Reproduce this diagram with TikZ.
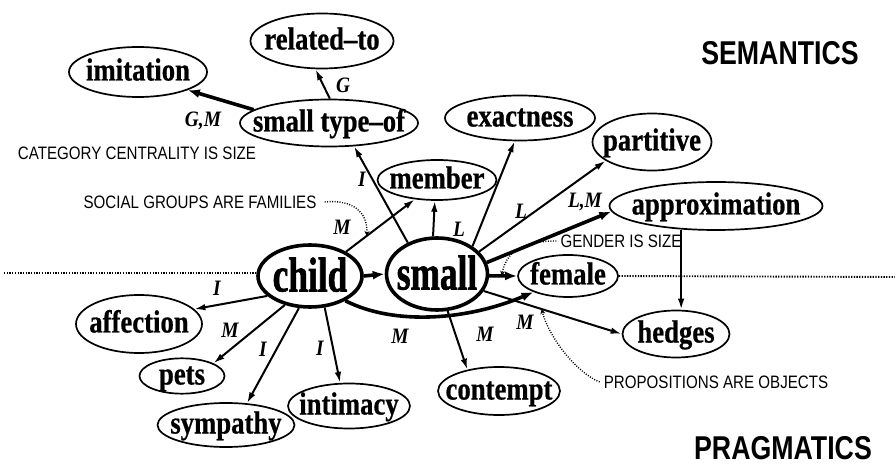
\documentclass[tikz,border=0pt]{standalone}
\usepackage{fontspec}
\setmainfont{Liberation Serif}
\newfontfamily\conceptfont[FakeStretch=0.835,FakeBold=0.6]{Liberation Serif}
\newfontfamily\hubfont[FakeStretch=0.72,FakeBold=1.2]{Liberation Serif}
\newfontfamily\tagfont[FakeStretch=0.88]{Liberation Serif}
\newfontfamily\notefont[FakeStretch=0.84]{Liberation Sans}
\newfontfamily\fieldfont[FakeStretch=0.81]{Liberation Sans}
\usetikzlibrary{shapes.geometric,arrows.meta}

\newcommand{\nw}[1]{\makebox[0pt]{#1}}

\tikzset{
  concept/.style={ellipse, draw, line width=1.7pt, inner sep=0pt,
    font=\conceptfont\bfseries\fontsize{32pt}{32pt}\selectfont,
    text height=21pt, text depth=4pt},
  hub/.style={concept, line width=3.6pt,
    font=\hubfont\bfseries\fontsize{49pt}{49pt}\selectfont,
    text height=33pt, text depth=2pt},
  link/.style={line width=2pt, -{Latex[length=11pt,width=6.5pt]}},
  heavy/.style={line width=3.6pt, -{Latex[length=12pt,width=9pt]}},
  tag/.style={inner sep=0pt, font=\tagfont\bfseries\itshape\fontsize{22pt}{22pt}\selectfont},
  note/.style={inner sep=0pt, font=\notefont\fontsize{18pt}{18pt}\selectfont},
  fieldname/.style={inner sep=0pt, font=\fieldfont\bfseries\fontsize{33pt}{33pt}\selectfont},
  notelink/.style={line width=1.4pt, dash pattern=on 1pt off 1.5pt, -{Stealth[length=5pt,width=5pt]}},
  divider/.style={line width=1.9pt, dash pattern=on 1.3pt off 1.4pt},
}

\begin{document}
\begin{tikzpicture}[x=1pt, y=-1pt]
    \useasboundingbox (0,0) rectangle (895,465);
    % concepts
    \node[concept, minimum width=143pt, minimum height=55pt] (related) at (322,41) {\nw{related–to}};
    \node[concept, minimum width=138pt, minimum height=50pt] (imitation) at (138,72) {\nw{imitation}};
    \node[concept, minimum width=178pt, minimum height=47pt] (stype) at (329,123) {\nw{small type–of}};
    \node[concept, minimum width=119pt, minimum height=40pt] (member) at (437,180) {\nw{member}};
    \node[concept, minimum width=150pt, minimum height=45pt] (exact) at (520,118) {\nw{exactness}};
    \node[concept, minimum width=119pt, minimum height=57pt] (partitive) at (652,142) {\nw{partitive}};
    \node[concept, minimum width=213pt, minimum height=48pt] (approx) at (716,206) {\nw{approximation}};
    \node[hub, minimum width=104pt, minimum height=62pt] (child) at (310,276) {\nw{child}};
    \node[hub, minimum width=101pt, minimum height=72pt] (small) at (437,274) {\nw{small}};
    \node[concept, minimum width=100pt, minimum height=42pt] (female) at (568,276) {\nw{female}};
    \node[concept, minimum width=107pt, minimum height=47pt] (hedges) at (676,334) {\nw{hedges}};
    \node[concept, minimum width=122pt, minimum height=48pt] (contempt) at (499,391) {\nw{contempt}};
    \node[concept, minimum width=126pt, minimum height=58pt] (affection) at (139,324) {\nw{affection}};
    \node[concept, minimum width=85pt, minimum height=35pt] (pets) at (182,376) {\nw{pets}};
    \node[concept, minimum width=137pt, minimum height=44pt] (sympathy) at (226,425) {\nw{sympathy}};
    \node[concept, minimum width=122pt, minimum height=45pt] (intimacy) at (349,406) {\nw{intimacy}};

    % fields and metaphors
    \node[fieldname] (sem) at (780,53) {SEMANTICS};
    \node[fieldname] (prag) at (783,448) {PRAGMATICS};
    \node[note] (catnote) at (137,153) {CATEGORY CENTRALITY IS SIZE};
    \node[note] (socnote) at (200,202) {SOCIAL GROUPS ARE FAMILIES};
    \node[note] (gendnote) at (621,241) {GENDER IS SIZE};
    \node[note] (propnote) at (716,382) {PROPOSITIONS ARE OBJECTS};

    % divider
    \coordinate (lft) at (4,273);
    \coordinate (rgt) at (895,277);
    \draw[divider] (lft) -- (lft -| child.west);
    \draw[divider] (female.east) -- (rgt);

    % links
    \draw[link] (stype.88) -- (related.-103);
    \draw[heavy] (stype.170) -- (imitation.-20);
    \draw[link] (small.133) -- (stype.-43);
    \draw[link] (child.34) -- (member.-139) coordinate[pos=0.3] (sgf);
    \draw[link] (small.96) -- (member.-96);
    \draw[link] (small.38) -- (exact.-103);
    \draw[link] (small.28) -- (partitive.-158);
    \draw[heavy] (small.13) -- (approx.183);
    \draw[heavy] (child.east) -- (small.west);
    \draw[heavy] (small.-2) -- (female.west) coordinate[pos=0.45] (gis);
    \draw[heavy] (child.-35) .. controls (395,326) and (468,320) .. (female.205);
    \draw[link] (small.-74) -- (contempt.146);
    \draw[link] (small.-20) -- (hedges.west) coordinate[pos=0.42] (pao);
    \draw[link] (approx.-146) -- (approx.-146 |- hedges.north);
    \draw[link] (child.-155) -- (affection.15);
    \draw[link] (child.-131) -- (pets.22);
    \draw[link] (child.-109) -- (sympathy.46);
    \draw[link] (child.-65) -- (intimacy.111);

    % metaphor pointers
    \draw[notelink] ([xshift=8pt]socnote.east) .. controls (352,199) and (368,212) .. (sgf);
    \draw[notelink] ([xshift=-4pt]gendnote.west) .. controls (522,241) and (506,252) .. (gis);
    \draw[notelink] ([xshift=-4pt]propnote.west) .. controls (575,372) and (548,335) .. (pao);

    % link labels
    \node[tag] (tG) at (343,85) {G};
    \node[tag] (tGM) at (203,121) {G,M};
    \node[tag] (tIs) at (362,179) {I};
    \node[tag] (tMm) at (342,227) {M};
    \node[tag] (tLm) at (459,229) {L};
    \node[tag] (tLp) at (521,211) {L};
    \node[tag] (tLM) at (585,202) {L,M};
    \node[tag] (tMf) at (400,336) {M};
    \node[tag] (tMc) at (485,334) {M};
    \node[tag] (tMh) at (525,322) {M};
    \node[tag] (tIa) at (217,288) {I};
    \node[tag] (tMp) at (230,330) {M};
    \node[tag] (tIy) at (263,349) {I};
    \node[tag] (tIi) at (320,348) {I};
\end{tikzpicture}
\end{document}
